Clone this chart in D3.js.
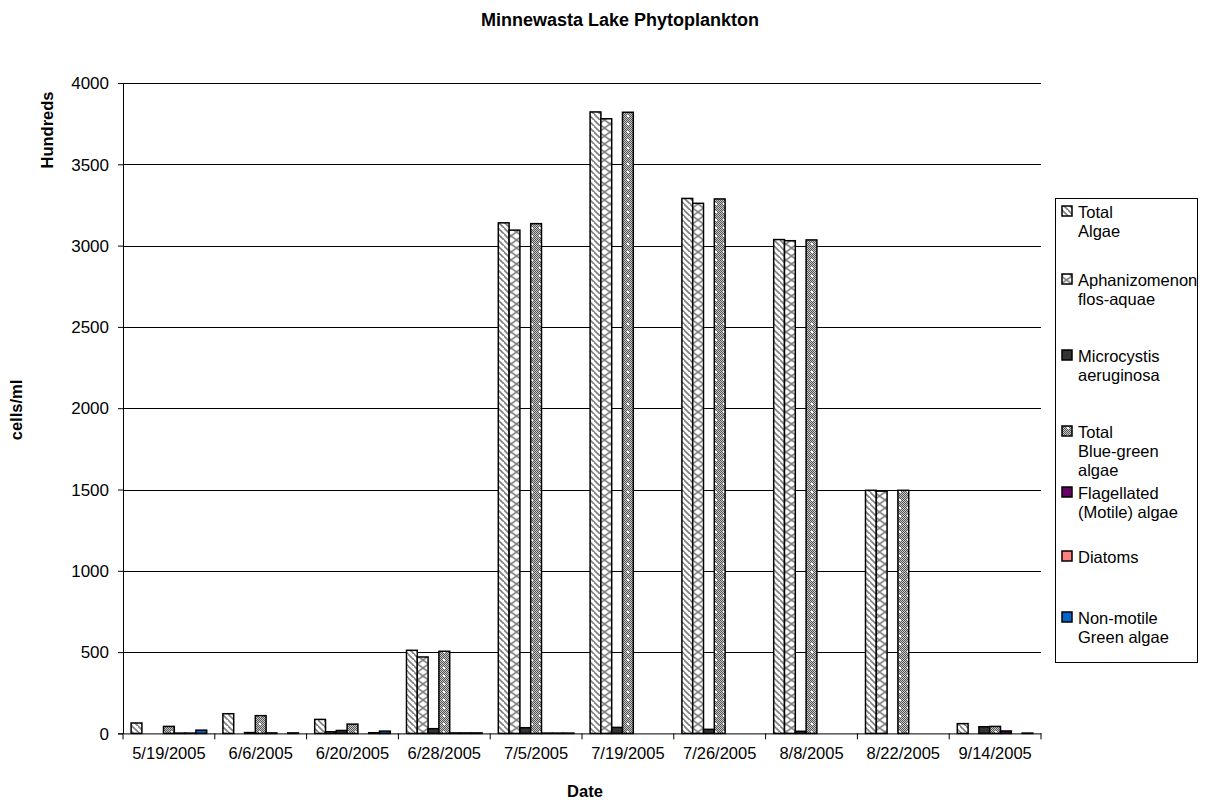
<!DOCTYPE html>
<html><head><meta charset="utf-8">
<script src="https://cdn.jsdelivr.net/npm/d3@7"></script>
<style>body{margin:0;background:#fff}svg{display:block;font-family:Arial,"Liberation Sans",sans-serif}</style>
</head><body><svg id="c" width="1219" height="800"></svg>
<script>
const dates = ["5/19/2005","6/6/2005","6/20/2005","6/28/2005","7/5/2005","7/19/2005","7/26/2005","8/8/2005","8/22/2005","9/14/2005"];
const totalAlgae     = [64,121,86,511,3140,3822,3290,3037,1495,60];
const aphanizomenon  = [null,null,10,470,3095,3780,3260,3030,1490,null];
const microcystis    = [null,5,18,29,35,37,25,13,null,41];
const totalBlueGreen = [43,109,57,505,3135,3820,3287,3035,1495,43];
const flagellated    = [2,3,null,3,2,null,null,null,null,15];
const diatoms        = [2,null,4,3,2,null,null,null,null,null];
const nonMotileGreen = [20,3,14,3,2,null,null,null,null,2];
const seriesNames = [["Total","Algae"],["Aphanizomenon","flos-aquae"],["Microcystis","aeruginosa"],["Total","Blue-green","algae"],["Flagellated","(Motile) algae"],["Diatoms"],["Non-motile","Green algae"]];
const yTicks = [0,500,1000,1500,2000,2500,3000,3500,4000];

const seriesVals = [totalAlgae,aphanizomenon,microcystis,totalBlueGreen,flagellated,diatoms,nonMotileGreen];
const fills = ["url(#pTA)","url(#pAph)","#333333","url(#pTBG)","#660066","#FF8080","#0066CC"];

const svg = d3.select("#c");
const defs = svg.append("defs");
let p = defs.append("pattern").attr("id","pTA").attr("patternUnits","userSpaceOnUse").attr("width",6).attr("height",6);
p.append("rect").attr("width",6).attr("height",6).attr("fill","#fff");
p.append("path").attr("d","M-1,-1L7,7M-4,2L2,8M4,-4L10,2").attr("stroke","#808080").attr("stroke-width",1.6);
p = defs.append("pattern").attr("id","pAph").attr("patternUnits","userSpaceOnUse").attr("width",11).attr("height",16).attr("x",-0.5);
p.append("rect").attr("width",11).attr("height",16).attr("fill","#fff");
p.append("path").attr("d","M0,0L11,8L0,16M11,0L0,8L11,16").attr("stroke","#808080").attr("stroke-width",1.6).attr("fill","none");
p = defs.append("pattern").attr("id","pTBG").attr("patternUnits","userSpaceOnUse").attr("width",8).attr("height",8);
p.append("rect").attr("width",8).attr("height",8).attr("fill","#c8c8c8");
for (let i=0;i<8;i++) for (let j=0;j<8;j++) if ((i+j)%2===0) p.append("rect").attr("x",i).attr("y",j).attr("width",1).attr("height",1).attr("fill","#555");
p.append("rect").attr("x",3).attr("y",3).attr("width",2).attr("height",2).attr("fill","#fff");
defs.append("clipPath").attr("id","lgClip").append("rect").attr("x",1056).attr("y",199).attr("width",141).attr("height",463);

const L=123, R=1041, T=83, B=733.4;
const x0 = d3.scaleBand().domain(dates).range([L,R]).paddingInner(0).paddingOuter(0);
const bw = x0.bandwidth()/8.5;
const y = d3.scaleLinear().domain([0,4000]).range([B,T]);

svg.append("g").selectAll("line").data(yTicks.filter(d=>d>0)).join("line")
  .attr("x1",L).attr("x2",R).attr("y1",d=>Math.round(y(d))+0.5).attr("y2",d=>Math.round(y(d))+0.5)
  .attr("stroke","#000").attr("stroke-width",1);

const g = svg.append("g");
seriesVals.forEach((vals,si)=>{
  g.selectAll(null).data(dates.map((d,i)=>({d,v:vals[i]})).filter(o=>o.v!=null)).join("rect")
    .attr("x",o=>x0(o.d)+x0.bandwidth()*0.75/8.5+si*bw)
    .attr("width",bw)
    .attr("y",o=>y(o.v)).attr("height",o=>B-y(o.v))
    .attr("fill",fills[si]).attr("stroke","#000").attr("stroke-width",1.5);
});

const FF = "Arial,'Liberation Sans',sans-serif";
const yAxis = d3.axisLeft(y).tickValues(yTicks).tickFormat(d3.format("d")).tickSize(5).tickPadding(9);
const ya = svg.append("g").attr("transform",`translate(${L},0)`).call(yAxis);
ya.select(".domain").attr("stroke","#000");
ya.selectAll("text").attr("font-size",17).attr("font-family",FF).attr("fill","#000").attr("dy","0.34em");
const xAxis = d3.axisBottom(x0).tickSize(0).tickPadding(14);
const xa = svg.append("g").attr("transform",`translate(0,${B})`).call(xAxis);
xa.select(".domain").attr("stroke","#000");
xa.selectAll("text").attr("font-size",16.5).attr("font-family",FF).attr("fill","#000");
svg.append("g").selectAll("line").data(d3.range(dates.length+1)).join("line")
  .attr("x1",i=>L+i*x0.step()).attr("x2",i=>L+i*x0.step())
  .attr("y1",B).attr("y2",B+6).attr("stroke","#000");

svg.append("text").attr("x",620).attr("y",26).attr("text-anchor","middle").attr("font-weight","bold").attr("font-size",18).text("Minnewasta Lake Phytoplankton");
svg.append("text").attr("x",585).attr("y",797).attr("text-anchor","middle").attr("font-weight","bold").attr("font-size",16.5).text("Date");
svg.append("text").attr("transform","translate(53,130) rotate(-90)").attr("text-anchor","middle").attr("font-weight","bold").attr("font-size",16.5).text("Hundreds");
svg.append("text").attr("transform","translate(22,410) rotate(-90)").attr("text-anchor","middle").attr("font-weight","bold").attr("font-size",16.5).text("cells/ml");

const lg = svg.append("g");
lg.append("rect").attr("x",1055.5).attr("y",198.5).attr("width",142).attr("height",464).attr("fill","#fff").attr("stroke","#000");
const lgi = lg.append("g").attr("clip-path","url(#lgClip)");
const ly = [212,280,356,432,493,557,618];
seriesNames.forEach((nm,i)=>{
  lgi.append("rect").attr("x",1062).attr("y",ly[i]-6).attr("width",10).attr("height",10).attr("fill",fills[i]).attr("stroke","#000").attr("stroke-width",1.5);
  const t = lgi.append("text").attr("x",1078).attr("y",ly[i]+5.5).attr("font-size",16.5);
  nm.forEach((s,k)=>t.append("tspan").attr("x",1078).attr("dy",k?19:0).text(s));
});
</script></body></html>
